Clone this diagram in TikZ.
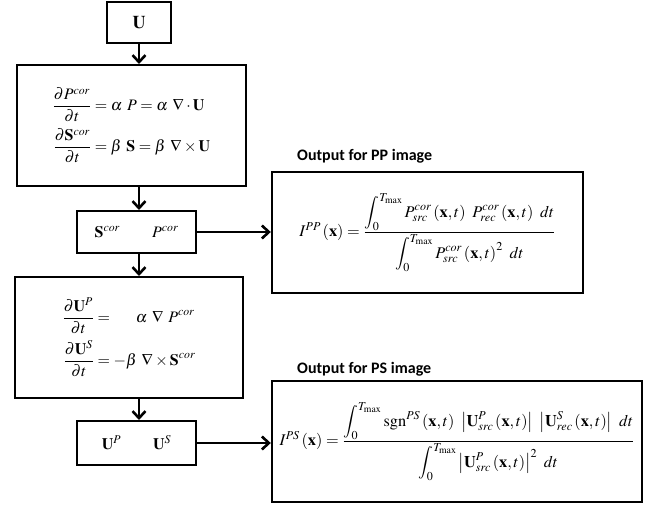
\documentclass[tikz,border=0pt]{standalone}
\usepackage{amsmath}
\usepackage{mathptmx}
\usepackage{fontspec}
\newfontfamily\lblfont{Carlito}
\usetikzlibrary{arrows.meta}
\tikzset{
  box/.style={draw, line width=2pt, rectangle, inner sep=0pt, align=center, font=\fontsize{16}{19}\selectfont},
  obox/.style={draw, line width=2.4pt, rectangle, inner sep=0pt, align=center, font=\fontsize{16.3}{19}\selectfont},
  arr/.style={line width=2.6pt, -{Straight Barb[length=7pt,width=13pt,line width=2.6pt]}},
  lbl/.style={anchor=west, inner sep=0pt, font=\lblfont\bfseries\fontsize{16}{19}\selectfont}
}
\begin{document}
\begin{tikzpicture}[x=1pt,y=-1pt]
\useasboundingbox (0,0) rectangle (654,506);
\node[box, minimum width=64pt, minimum height=41pt, font=\fontsize{18}{21}\selectfont] (u) at (139,22.5) {$\mathbf{U}$};
\node[box, minimum width=229pt, minimum height=121pt] (b2) at (131.5,125.5)
 {$\begin{aligned}
 \frac{\partial P^{cor}}{\partial t} &= \alpha\ P = \alpha\ \nabla\cdot\mathbf{U}\\[3pt]
 \frac{\partial \mathbf{S}^{cor}}{\partial t} &= \beta\ \mathbf{S} = \beta\ \nabla\times\mathbf{U}
 \end{aligned}$};
\node[box, minimum width=119pt, minimum height=42pt] (b3) at (136.5,232) {$\mathbf{S}^{cor}\qquad P^{cor}$};
\node[box, minimum width=228pt, minimum height=121pt] (b4) at (129,337.5)
 {$\begin{aligned}
 \frac{\partial \mathbf{U}^{P}}{\partial t} &= \phantom{-}\ \ \alpha\ \nabla\ P^{cor}\\[3pt]
 \frac{\partial \mathbf{U}^{S}}{\partial t} &= -\beta\ \nabla\times\mathbf{S}^{cor}
 \end{aligned}$};
\node[box, minimum width=119pt, minimum height=44pt] (b5) at (136.5,443) {$\mathbf{U}^{P}\qquad \mathbf{U}^{S}$};
\node[obox, minimum width=311pt, minimum height=121pt] (r1) at (427.5,232.5)
 {$I^{PP}\left(\mathbf{x}\right) = \dfrac{\displaystyle\int_0^{T_{\max}} P_{src}^{cor}\left(\mathbf{x},t\right)\ P_{rec}^{cor}\left(\mathbf{x},t\right)\ dt}{\displaystyle\int_0^{T_{\max}} P_{src}^{cor}\left(\mathbf{x},t\right)^2\ dt}$};
\node[obox, minimum width=370pt, minimum height=121pt] (r2) at (457,441.5)
 {$I^{PS}\left(\mathbf{x}\right) = \dfrac{\displaystyle\int_0^{T_{\max}} \mathrm{sgn}^{PS}\left(\mathbf{x},t\right)\ \left|\mathbf{U}_{src}^{P}\left(\mathbf{x},t\right)\right|\ \left|\mathbf{U}_{rec}^{S}\left(\mathbf{x},t\right)\right|\ dt}{\displaystyle\int_0^{T_{\max}} \left|\mathbf{U}_{src}^{P}\left(\mathbf{x},t\right)\right|^2\ dt}$};
\node[lbl] (l1) at (297,156) {Output for PP image};
\node[lbl] (l2) at (297,369) {Output for PS image};
\draw[arr] (u.south) -- (u.south |- b2.north);
\draw[arr] (u.south |- b2.south) -- (u.south |- b3.north);
\draw[arr] (u.south |- b3.south) -- (u.south |- b4.north);
\draw[arr] (u.south |- b4.south) -- (u.south |- b5.north);
\draw[arr] (b3.east) -- (r1.west |- b3.east);
\draw[arr] (b5.east) -- (r2.west |- b5.east);
\end{tikzpicture}
\end{document}
